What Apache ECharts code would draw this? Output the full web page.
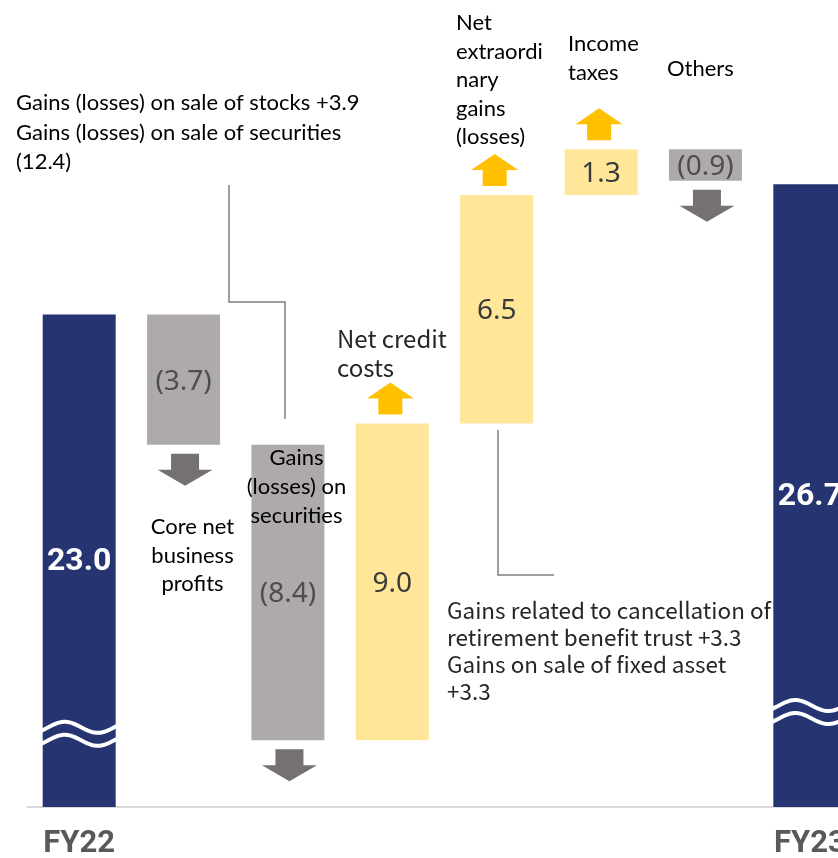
<!DOCTYPE html>
<html>
<head>
<meta charset="utf-8">
<title>Net income bridge FY22 to FY23</title>
<script src="https://cdn.jsdelivr.net/npm/echarts@6/dist/echarts.min.js"></script>
<style>
  html, body { margin: 0; padding: 0; background: #ffffff; }
  #chart { width: 838px; height: 858px; }
</style>
</head>
<body>
<div id="chart"></div>
<script>
// ---- data ----
const tickLabels = ['FY22', '', '', '', '', '', '', 'FY23'];
const startTotal = 23.0;                                  // FY22
const changes = [-3.7, -8.4, 9.0, 6.5, 1.3, -0.9];        // drivers, in order
const endTotal = 26.7;                                    // FY23

// broken value axis: the visible range starts above zero
const AXIS_MIN = 9;
const AXIS_MAX = 31.94;

// ---- build waterfall rows: [index, low, high, kind] (kind 0 total, 1 up, 2 down) ----
const rows = [];
const labels = [];
rows.push([0, AXIS_MIN, startTotal, 0]);
labels.push(startTotal.toFixed(1));
let running = startTotal;
changes.forEach((d, k) => {
  const next = running + d;
  rows.push([k + 1, Math.min(running, next), Math.max(running, next), d >= 0 ? 1 : 2]);
  labels.push(d >= 0 ? d.toFixed(1) : '(' + Math.abs(d).toFixed(1) + ')');
  running = next;
});
rows.push([7, AXIS_MIN, endTotal, 0]);
labels.push(endTotal.toFixed(1));

// ---- styling ----
const NAVY = '#263572';
const GREY_BAR = '#aeaaaa';
const GREY_ARROW = '#767171';
const YELLOW_BAR = '#ffe699';
const YELLOW_ARROW = '#ffc000';
const BAR_W = 73;
// axis-break marks drawn across the total bars (value level of the mark pair)
const BREAK_AT = { 0: 11.08, 7: 11.70 };

function wavePoints(left, width, cy) {
  const pts = [];
  const n = 40;
  for (let k = 0; k <= n; k++) {
    const x = left - 2 + k * (width + 4) / n;
    pts.push([x, cy - 5.5 * Math.cos(2 * Math.PI * (x - (left + 22)) / 66)]);
  }
  return pts;
}

function renderStep(params, api) {
  const i = api.value(0), lo = api.value(1), hi = api.value(2), kind = api.value(3);
  const pLo = api.coord([i, lo]);
  const pHi = api.coord([i, hi]);
  const cx = pLo[0];
  const left = cx - BAR_W / 2;
  const yTop = pHi[1];
  const yBot = pLo[1];
  const fill = kind === 0 ? NAVY : (kind === 1 ? YELLOW_BAR : GREY_BAR);
  const children = [{
    type: 'rect',
    shape: { x: left, y: yTop, width: BAR_W, height: yBot - yTop },
    style: { fill: fill }
  }];

  if (kind === 0) {
    const cy = api.coord([i, BREAK_AT[i]])[1] - 6.5;
    [cy, cy + 13].forEach(yy => {
      children.push({
        type: 'polyline',
        shape: { points: wavePoints(left, BAR_W, yy), smooth: 0 },
        style: { stroke: '#ffffff', lineWidth: 4, fill: null }
      });
    });
  } else if (kind === 2) {
    const ax = cx + 1.5, y0 = yBot + 9;
    children.push({
      type: 'polygon',
      shape: { points: [[ax - 14, y0], [ax + 14, y0], [ax + 14, y0 + 16], [ax + 27.5, y0 + 16],
                        [ax, y0 + 32], [ax - 27.5, y0 + 16], [ax - 14, y0 + 16]] },
      style: { fill: GREY_ARROW }
    });
  } else {
    const ax = cx - 2, y0 = yTop - 9;
    children.push({
      type: 'polygon',
      shape: { points: [[ax - 12, y0], [ax + 12, y0], [ax + 12, y0 - 16], [ax + 23.5, y0 - 16],
                        [ax, y0 - 32], [ax - 23.5, y0 - 16], [ax - 12, y0 - 16]] },
      style: { fill: YELLOW_ARROW }
    });
  }

  children.push({
    type: 'text',
    style: {
      x: cx, y: (yTop + yBot) / 2 + (kind === 0 ? 1 : 2),
      text: labels[params.dataIndex],
      align: 'center', verticalAlign: 'middle',
      fontFamily: kind === 0 ? 'Roboto' : 'Noto Sans',
      fontWeight: kind === 0 ? 'bold' : 'normal',
      fontSize: kind === 0 ? 32 : 28,
      fill: kind === 0 ? '#ffffff' : (kind === 1 ? '#3a3a3a' : '#4d4d4d')
    }
  });
  return { type: 'group', children: children };
}

const LATO = 'Lato, "Liberation Sans", sans-serif';
const GOTHIC = '"Noto Sans CJK JP", "Noto Sans", sans-serif';

function note(x, yTop, text, opts) {
  return {
    type: 'text', x: x, y: yTop, z: 10,
    style: Object.assign({
      text: text, fill: '#000000', fontFamily: LATO, fontSize: 22,
      lineHeight: 29, align: 'left', verticalAlign: 'top'
    }, opts || {})
  };
}

const chart = echarts.init(document.getElementById('chart'), null, { renderer: 'canvas' });
chart.setOption({
  animation: false,
  backgroundColor: '#ffffff',
  grid: { left: 27, top: 0, width: 835, bottom: 51, containLabel: false, outerBoundsMode: 'none' },
  xAxis: {
    type: 'category',
    data: tickLabels,
    axisTick: { show: false },
    axisLine: { lineStyle: { color: '#d9d9d9', width: 2 } },
    axisLabel: {
      interval: 0, margin: 22, color: '#595959',
      fontFamily: 'Roboto', fontWeight: 'bold', fontSize: 31
    }
  },
  yAxis: {
    type: 'value', min: AXIS_MIN, max: AXIS_MAX, show: false,
    splitLine: { show: false }
  },
  series: [{
    type: 'custom',
    renderItem: renderStep,
    data: rows,
    clip: false,
    encode: { x: 0, y: [1, 2] }
  }],
  graphic: [
    note(16, 88.5, 'Gains (losses) on sale of stocks +3.9\nGains (losses) on sale of securities\n(12.4)', { lineHeight: 29.5 }),
    note(192.5, 513, 'Core net\nbusiness\nprofits', { align: 'center', lineHeight: 28.5 }),
    note(296.5, 443.5, 'Gains\n(losses) on\nsecurities', { align: 'center' }),
    note(337, 324.5, 'Net credit\ncosts', { fontFamily: GOTHIC, fontSize: 24, fill: '#262626' }),
    note(456, 8.75, 'Net\nextraordi\nnary\ngains\n(losses)', { lineHeight: 28.5 }),
    note(568, 29.5, 'Income\ntaxes'),
    note(667, 54.5, 'Others'),
    note(447, 596.5, 'Gains related to cancellation of\nretirement benefit trust +3.3\nGains on sale of fixed asset\n+3.3',
      { fontFamily: GOTHIC, fontSize: 22.5, lineHeight: 27, fill: '#262626' }),
    {
      type: 'polyline', z: 5,
      shape: { points: [[229, 185], [229, 302], [285, 302], [285, 419]] },
      style: { stroke: '#7f7f7f', lineWidth: 1.5, fill: null }
    },
    {
      type: 'polyline', z: 5,
      shape: { points: [[498, 430], [498, 575], [554, 575]] },
      style: { stroke: '#7f7f7f', lineWidth: 1.5, fill: null }
    }
  ]
});
</script>
</body>
</html>
